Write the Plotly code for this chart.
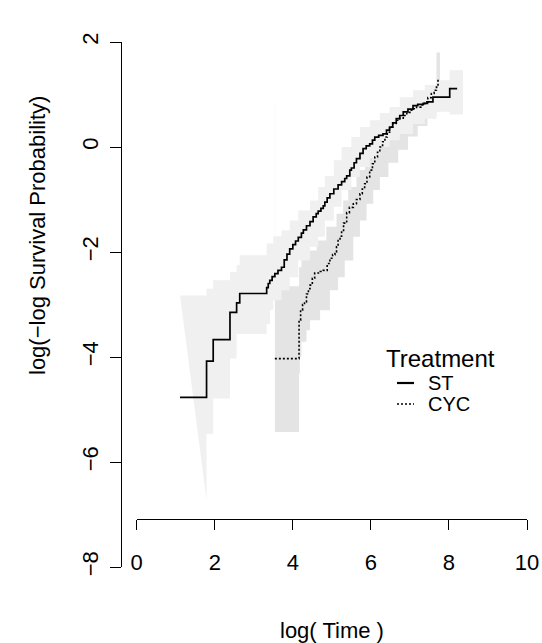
import plotly.graph_objects as go

# ---------------- data ----------------
st_x = [1.11, 1.79, 1.96, 2.39, 2.56, 2.64, 3.33, 3.37, 3.41, 3.47, 3.54, 3.62, 3.71, 3.78,
        3.85, 3.92, 4.00, 4.07, 4.14, 4.22, 4.27, 4.35, 4.44, 4.52, 4.60, 4.65, 4.72, 4.78,
        4.82, 4.88, 4.95, 5.05, 5.16, 5.25, 5.33, 5.38, 5.46, 5.50, 5.57, 5.63, 5.72, 5.80,
        5.88, 5.97, 6.04, 6.10, 6.20, 6.31, 6.40, 6.48, 6.56, 6.65, 6.74, 6.83, 6.95, 7.08,
        7.20, 7.34, 7.45, 7.59, 7.68, 8.02]
st_y = [-4.77, -4.08, -3.67, -3.15, -2.97, -2.79, -2.68, -2.60, -2.54, -2.47, -2.41, -2.35,
        -2.29, -2.15, -2.04, -1.94, -1.86, -1.79, -1.72, -1.64, -1.58, -1.50, -1.42, -1.33,
        -1.27, -1.22, -1.17, -1.12, -1.05, -0.97, -0.89, -0.80, -0.72, -0.66, -0.60, -0.55,
        -0.44, -0.40, -0.30, -0.22, -0.12, -0.03, 0.02, 0.06, 0.13, 0.19, 0.22, 0.25, 0.32,
        0.38, 0.46, 0.54, 0.60, 0.67, 0.72, 0.79, 0.81, 0.83, 0.86, 0.95, 0.95, 1.11]
st_end = 8.21

cyc_x = [3.54, 4.16, 4.20, 4.25, 4.30, 4.35, 4.40, 4.44, 4.50, 4.56, 4.70, 4.78, 4.88, 4.95,
         5.02, 5.08, 5.12, 5.16, 5.21, 5.25, 5.30, 5.38, 5.45, 5.55, 5.63, 5.72, 5.78, 5.84,
         5.90, 5.97, 6.04, 6.10, 6.17, 6.23, 6.30, 6.36, 6.42, 6.48, 6.56, 6.65, 6.74, 6.83,
         6.92, 7.00, 7.08, 7.17, 7.28, 7.38, 7.46, 7.55, 7.62, 7.68, 7.72]
cyc_y = [-4.03, -3.30, -3.11, -3.00, -2.95, -2.80, -2.70, -2.63, -2.50, -2.40, -2.37, -2.35,
         -2.22, -2.12, -2.05, -2.00, -1.90, -1.78, -1.70, -1.59, -1.45, -1.25, -1.15, -1.08,
         -1.00, -0.89, -0.80, -0.70, -0.57, -0.44, -0.32, -0.19, -0.10, 0.00, 0.10, 0.19,
         0.28, 0.38, 0.45, 0.51, 0.55, 0.60, 0.66, 0.70, 0.73, 0.76, 0.80, 0.86, 0.94, 1.02,
         1.08, 1.14, 1.30]
cyc_end = 7.74

# confidence bands (step functions); ST lower starts as a wedge to its first value
st_band_x = [1.11, 1.79, 1.96, 2.39, 2.56, 2.64, 3.33, 3.42, 3.50, 3.71, 3.92, 4.14, 4.44,
             4.65, 4.82, 5.05, 5.25, 5.50, 5.72, 5.97, 6.23, 6.48, 6.74, 7.08, 7.38, 7.68, 8.02]
st_band_hi = [-2.83, -2.70, -2.54, -2.38, -2.25, -2.06, -1.84, -1.84, -1.70, -1.59, -1.40,
              -1.21, -1.02, -0.76, -0.55, -0.25, 0.00, 0.19, 0.38, 0.51, 0.65, 0.76, 0.95,
              1.08, 1.18, 1.27, 1.46]
st_band_lo = [-6.73, -5.46, -4.79, -4.03, -3.56, -3.56, -3.37, -3.10, -2.92, -2.73, -2.48,
              -2.16, -1.90, -1.71, -1.40, -1.14, -0.82, -0.57, -0.38, -0.19, 0.00, 0.13, 0.25,
              0.44, 0.54, 0.67, 0.62]
st_band_end = 8.36

cyc_band_x = [3.54, 3.545, 4.16, 4.18, 4.22, 4.35, 4.44, 4.61, 4.70, 4.86, 4.95, 5.12, 5.16,
              5.29, 5.33, 5.42, 5.55, 5.63, 5.72, 5.85, 5.89, 6.06, 6.10, 6.23, 6.36, 6.45,
              6.60, 6.70, 6.90, 6.95, 7.20, 7.45, 7.68]
cyc_band_hi = [0.83, -2.65, -2.29, -2.29, -1.97, -1.97, -1.97, -1.78, -1.78, -1.52, -1.52,
               -1.27, -1.27, -1.02, -1.02, -0.76, -0.76, -0.44, -0.44, -0.20, -0.20, -0.20,
               0.05, 0.05, 0.30, 0.30, 0.50, 0.50, 0.70, 0.70, 0.90, 1.10, 1.80]
cyc_band_lo = [-5.43, -5.43, -4.32, -4.00, -3.71, -3.49, -3.30, -3.30, -3.11, -3.11, -2.73,
               -2.73, -2.48, -2.48, -2.16, -2.16, -1.71, -1.71, -1.40, -1.40, -1.08, -0.82,
               -0.82, -0.57, -0.57, -0.30, -0.30, -0.05, -0.05, 0.20, 0.40, 0.60, 0.75]
cyc_band_end = 7.77

x_ticks = [0, 2, 4, 6, 8, 10]
y_ticks = [-8, -6, -4, -2, 0, 2]
legend_title = "Treatment"
legend_labels = ["ST", "CYC"]

# ---------------- helpers ----------------
def band_polygon(xs, hi, lo, x_end, wedge=False):
    edges = xs + [x_end]
    px, py = [], []
    for i in range(len(xs)):
        px += [edges[i], edges[i + 1]]
        py += [hi[i], hi[i]]
    for i in range(len(xs) - 1, -1, -1):
        if wedge and i == 0:
            px += [edges[1]]
            py += [lo[0]]
        else:
            px += [edges[i + 1], edges[i]]
            py += [lo[i], lo[i]]
    px.append(px[0])
    py.append(py[0])
    return px, py

FONT = "Liberation Sans, Arial, Helvetica, sans-serif"

fig = go.Figure()

cx, cy = band_polygon(cyc_band_x, cyc_band_hi, cyc_band_lo, cyc_band_end)
fig.add_trace(go.Scatter(x=cx, y=cy, mode="lines", fill="toself",
                         fillcolor="#e4e4e4", line=dict(width=0, color="#e4e4e4"),
                         hoverinfo="skip", showlegend=False))
sx, sy = band_polygon(st_band_x, st_band_hi, st_band_lo, st_band_end, wedge=True)
fig.add_trace(go.Scatter(x=sx, y=sy, mode="lines", fill="toself",
                         fillcolor="#f0f0f0", line=dict(width=0, color="#f0f0f0"),
                         hoverinfo="skip", showlegend=False))

fig.add_trace(go.Scatter(x=cyc_x + [cyc_end], y=cyc_y + [cyc_y[-1]], mode="lines",
                         line=dict(shape="hv", color="black", width=1.6, dash="2px,2px"),
                         name="CYC", showlegend=False))
fig.add_trace(go.Scatter(x=st_x + [st_end], y=st_y + [st_y[-1]], mode="lines",
                         line=dict(shape="hv", color="black", width=1.7),
                         name="ST", showlegend=False))

# geometry (pixels)
W, H = 542, 643
L, R, T, B = 121, 15, 42, 76
pw, ph = W - L - R, H - T - B
def px2x(p):
    return (p - L) / pw
def px2y(p):
    return (H - B - p) / ph

fig.update_layout(
    width=W, height=H,
    margin=dict(l=L, r=R, t=T, b=B, autoexpand=False),
    plot_bgcolor="white", paper_bgcolor="white",
    font=dict(family=FONT, color="black", size=22),
    xaxis=dict(range=[0, 10], domain=[px2x(136.7), 1], anchor="free",
               position=px2y(519.3), showline=True, linecolor="black", linewidth=1.3,
               ticks="outside", ticklen=10, tickwidth=1.3, tickcolor="black",
               tickvals=x_ticks, ticktext=[str(v) for v in x_ticks],
               showgrid=False, zeroline=False, ticklabelstandoff=13, automargin=False,
               tickfont=dict(size=22, family=FONT)),
    yaxis=dict(range=[-8, 2], domain=[0, 1], anchor="free", position=0,
               showline=True, linecolor="black", linewidth=1.3,
               ticks="outside", ticklen=11, tickwidth=1.3, tickcolor="black",
               tickvals=y_ticks, ticktext=[str(v).replace("-", "\u2212") for v in y_ticks],
               tickangle=-90, showgrid=False, zeroline=False, ticklabelstandoff=3,
               automargin=False, tickfont=dict(size=22, family=FONT)),
)

fig.add_annotation(text="log( Time )", xref="paper", yref="paper",
                   x=px2x(332), y=px2y(630), showarrow=False,
                   font=dict(size=22, family=FONT), xanchor="center", yanchor="middle")
fig.add_annotation(text="log(\u2212log Survival Probability)", xref="paper", yref="paper",
                   x=px2x(38), y=px2y(236), showarrow=False, textangle=-90,
                   font=dict(size=22, family=FONT), xanchor="center", yanchor="middle")

# legend drawn manually
fig.add_annotation(text=legend_title, xref="paper", yref="paper",
                   x=px2x(440), y=px2y(358), showarrow=False,
                   font=dict(size=24, family=FONT), xanchor="center", yanchor="middle")
dashes = ["solid", "2px,2px"]
widths = [2.2, 1.6]
for i, lab in enumerate(legend_labels):
    yy = 383 + 21 * i
    fig.add_shape(type="line", xref="paper", yref="paper",
                  x0=px2x(397), x1=px2x(414), y0=px2y(yy), y1=px2y(yy),
                  line=dict(color="black", width=widths[i], dash=dashes[i]))
    fig.add_annotation(text=lab, xref="paper", yref="paper",
                       x=px2x(426), y=px2y(yy), showarrow=False,
                       font=dict(size=20, family=FONT), xanchor="left", yanchor="middle")

fig.write_html("out.html")
